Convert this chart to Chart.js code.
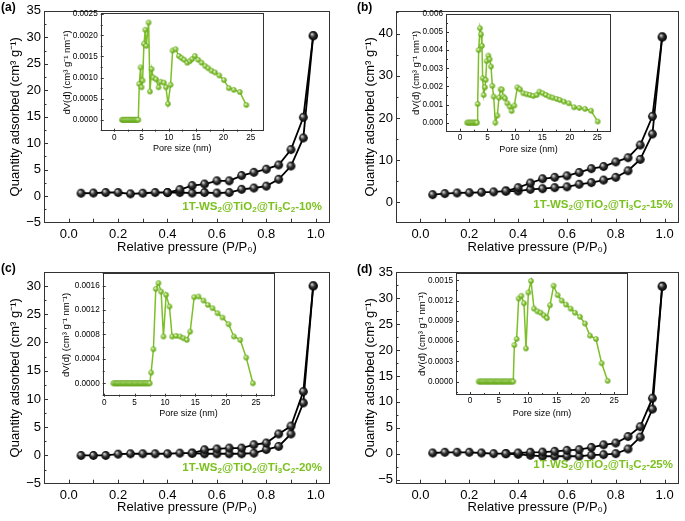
<!DOCTYPE html>
<html>
<head>
<meta charset="utf-8">
<script src="https://cdn.jsdelivr.net/npm/chart.js@4.4.0/dist/chart.umd.min.js"></script>
<style>
  body { margin: 0; background: #fff; width: 685px; height: 521px; position: relative; overflow: hidden;
         font-family: "Liberation Sans", Arial, sans-serif; }
  canvas { position: absolute; }
  .tag { position: absolute; font-weight: bold; font-size: 12px; line-height: 14px; color: #000; }
  .lbl { position: absolute; font-weight: bold; font-size: 11.5px; line-height: 14px; color: #7cc11f; white-space: nowrap; }
  .lbl sub { font-size: 70%; vertical-align: -0.3em; line-height: 0; }
</style>
</head>
<body>
<canvas id="mainA" width="342" height="261" style="left:0;top:0"></canvas>
<canvas id="mainB" width="343" height="261" style="left:342px;top:0"></canvas>
<canvas id="mainC" width="342" height="260" style="left:0;top:261px"></canvas>
<canvas id="mainD" width="343" height="260" style="left:342px;top:261px"></canvas>
<canvas id="insetA" width="215" height="153" style="left:55px;top:5px"></canvas>
<canvas id="insetB" width="213" height="153" style="left:404px;top:5px"></canvas>
<canvas id="insetC" width="225" height="158" style="left:55px;top:265px"></canvas>
<canvas id="insetD" width="224" height="157" style="left:410px;top:265px"></canvas>

<div class="tag" style="left:1px;top:0">(a)</div>
<div class="tag" style="left:357px;top:0">(b)</div>
<div class="tag" style="left:1px;top:261px">(c)</div>
<div class="tag" style="left:357px;top:262px">(d)</div>
<div class="lbl" style="right:363px;top:199px">1T-WS<sub>2</sub>@TiO<sub>2</sub>@Ti<sub>3</sub>C<sub>2</sub>-10%</div>
<div class="lbl" style="right:12px;top:197px">1T-WS<sub>2</sub>@TiO<sub>2</sub>@Ti<sub>3</sub>C<sub>2</sub>-15%</div>
<div class="lbl" style="right:363px;top:460px">1T-WS<sub>2</sub>@TiO<sub>2</sub>@Ti<sub>3</sub>C<sub>2</sub>-20%</div>
<div class="lbl" style="right:12px;top:457px">1T-WS<sub>2</sub>@TiO<sub>2</sub>@Ti<sub>3</sub>C<sub>2</sub>-25%</div>

<script>
// relative pressure points of the isotherms
const relP = [0.05, 0.1, 0.15, 0.2, 0.25, 0.3, 0.35, 0.4, 0.45, 0.5, 0.55, 0.6, 0.65, 0.7, 0.75, 0.8, 0.85, 0.9, 0.95, 0.99];

// adsorption / desorption branches (cm3 g-1)
const adsA = [0.56, 0.6, 0.7, 0.7, 0.45, 0.56, 0.7, 0.7, 0.7, 0.6, 0.7, 0.6, 0.7, 1.3, 1.55, 1.9, 3.2, 5.7, 11.0, 30.3];
const desA = [null, null, null, null, null, null, null, 0.7, 1.25, 2.0, 2.3, 2.9, 2.9, 3.9, 4.5, 5.1, 5.9, 8.8, 14.9, 30.3];
const adsB = [1.85, 2.1, 2.25, 2.3, 2.4, 2.5, 2.7, 2.7, 3.1, 3.25, 3.5, 3.7, 4.3, 4.7, 5.3, 5.95, 7.5, 10.2, 16.2, 39.2];
const desB = [null, null, null, null, null, null, 2.7, 3.5, 4.6, 5.6, 5.95, 6.3, 7.1, 8.0, 8.5, 9.6, 10.6, 13.6, 20.4, 39.2];
const adsC = [0.0, 0.0, 0.0, 0.23, 0.3, 0.3, 0.3, 0.3, 0.4, 0.4, 0.3, 0.3, 0.3, 0.3, 0.4, 1.05, 1.6, 3.8, 9.3, 30.0];
const desC = [null, null, null, null, null, null, null, null, null, 0.4, 1.0, 1.15, 1.3, 1.3, 1.9, 2.2, 3.8, 5.2, 11.3, 30.0];
const adsD = [0.13, 0.26, 0.26, 0.26, 0.13, 0.0, 0.0, -0.13, -0.32, -0.5, -0.5, -0.5, -0.5, -0.3, -0.2, 0.0, 0.9, 3.2, 8.6, 32.3];
const desD = [null, null, null, null, null, null, 0.0, 0.13, 0.26, 0.3, 0.45, 0.64, 0.77, 1.2, 1.7, 2.05, 3.3, 5.2, 10.7, 32.3];

// pore size distributions [pore size nm, dV(d)]
const poreA = [[1.4,0],[1.6,0],[1.8,0],[2.0,0],[2.2,0],[2.4,0],[2.6,0],[2.8,0],[3.0,0],[3.2,0],[3.4,0],[3.6,0],[3.8,0],[4.0,0],[4.2,0],[4.4,0],
  [4.58,0.00085],[4.83,0.00124],[5.0,0.00077],[5.19,0.00093],[5.44,0.0018],[5.68,0.00213],[5.86,0.00175],[6.29,0.0023],[6.54,0.00067],
  [6.84,0.0012],[7.15,0.001],[7.64,0.00096],[8.12,0.00077],[8.49,0.0009],[9.1,0.00088],[9.47,0.00077],[9.84,0.00038],[10.32,0.00083],
  [10.69,0.00164],[11.24,0.00167],[11.85,0.00151],[12.34,0.00146],[12.83,0.00142],[13.38,0.00135],[13.87,0.00139],[14.3,0.00144],
  [14.78,0.00151],[15.39,0.00142],[16.0,0.00135],[16.68,0.00127],[17.23,0.00122],[17.84,0.00116],[18.45,0.00112],[19.24,0.00105],
  [20.1,0.00094],[21.0,0.00075],[21.9,0.00071],[23.0,0.00066],[24.2,0.00035]];
const poreB = [[1.3,0],[1.5,0],[1.7,0],[1.9,0],[2.1,0],[2.3,0],[2.5,0],[2.7,0],[2.9,0],[3.1,0],
  [3.22,0.00103],[3.4,0.00401],[3.64,0.00521],[3.83,0.00488],[4.0,0.00424],[4.13,0.00245],[4.31,0.00153],[4.55,0.00195],[4.68,0.00236],
  [4.86,0.0034],[5.16,0.0037],[5.4,0.0035],[5.65,0.0031],[5.89,0.00203],[6.13,0.00144],[6.44,0.0],[6.8,0.00039],[7.1,0.00138],
  [7.4,0.00184],[7.62,0.00183],[7.9,0.00144],[8.2,0.00134],[8.62,0.00107],[9.05,0.00088],[9.41,0.00064],[9.9,0.00094],[10.44,0.00195],
  [10.93,0.00184],[11.54,0.00162],[12.14,0.00157],[12.75,0.00153],[13.36,0.00147],[13.97,0.00153],[14.45,0.00171],[15.06,0.00162],
  [15.66,0.00153],[16.27,0.00144],[16.88,0.00138],[17.6,0.00131],[18.2,0.00125],[18.94,0.00116],[19.8,0.00107],[20.77,0.00085],
  [21.74,0.00081],[22.77,0.00076],[23.86,0.00066],[25.08,0.00006]];
const poreC = [[1.5,0],[1.7,0],[1.9,0],[2.1,0],[2.3,0],[2.5,0],[2.7,0],[2.9,0],[3.1,0],[3.3,0],[3.5,0],[3.7,0],[3.9,0],[4.1,0],[4.3,0],[4.5,0],
  [4.7,0],[4.9,0],[5.1,0],[5.3,0],[5.5,0],[5.7,0],[5.9,0],[6.1,0],[6.3,0],[6.5,0],[6.7,0],[6.9,0],[7.1,0],[7.3,0],[7.5,0],
  [7.72,0.000175],[8.1,0.000557],[8.49,0.001545],[8.93,0.00164],[9.37,0.0015],[9.75,0.000765],[10.19,0.001447],[10.74,0.001256],
  [11.18,0.000765],[11.84,0.000775],[12.5,0.000765],[13.05,0.000737],[13.6,0.00071],[14.15,0.000846],[14.81,0.001409],[15.52,0.00142],
  [16.35,0.001354],[17.06,0.001283],[17.83,0.001229],[18.65,0.001147],[19.48,0.001076],[20.47,0.000966],[21.35,0.000765],[22.39,0.00071],
  [23.38,0.00042],[24.48,0.0]];
const poreD = [[1.5,0],[1.7,0],[1.9,0],[2.1,0],[2.3,0],[2.5,0],[2.7,0],[2.9,0],[3.1,0],[3.3,0],[3.5,0],[3.7,0],[3.9,0],[4.1,0],[4.3,0],[4.5,0],
  [4.7,0],[4.9,0],[5.1,0],[5.3,0],[5.5,0],[5.7,0],[5.9,0],[6.1,0],[6.3,0],[6.5,0],[6.7,0],[6.9,0],[7.1,0],[7.3,0],[7.5,0],
  [7.69,0.00054],[8.09,0.00063],[8.44,0.00123],[8.9,0.00127],[9.36,0.00116],[9.71,0.00049],[10.12,0.00132],[10.58,0.00149],[11.1,0.00108],
  [11.68,0.00104],[12.25,0.00102],[12.83,0.00098],[13.35,0.00094],[13.87,0.00113],[14.5,0.00142],[15.2,0.00128],[15.9,0.0012],[16.65,0.00114],
  [17.46,0.00108],[18.2,0.00102],[19.08,0.00096],[19.94,0.00086],[20.8,0.00068],[21.85,0.00063],[22.83,0.00027],[23.87,0.00001]];

// tick labels
const mainXTicks = [0, 0.1, 0.2, 0.3, 0.4, 0.5, 0.6, 0.7, 0.8, 0.9, 1.0];
const yTicksA = [-5, 0, 5, 10, 15, 20, 25, 30, 35];
const yTicksB = [0, 10, 20, 30, 40];
const yTicksC = [-5, 0, 5, 10, 15, 20, 25, 30];
const yTicksD = [-5, 0, 5, 10, 15, 20, 25, 30, 35];
const poreTicks = [0, 5, 10, 15, 20, 25];
const dvTicksA = [0, 0.0005, 0.001, 0.0015, 0.002, 0.0025];
const dvTicksB = [0, 0.001, 0.002, 0.003, 0.004, 0.005, 0.006];
const dvTicksC = [0, 0.0004, 0.0008, 0.0012, 0.0016];
const dvTicksD = [0, 0.0003, 0.0006, 0.0009, 0.0012, 0.0015];

const FONT = '"Liberation Sans", Arial, sans-serif';
const GREEN = '#7cbf26';

// inward ticks + frame drawn around the plot area
const frameTicks = {
  id: 'frameTicks',
  afterDatasetsDraw(chart, args, o) {
    const { ctx, chartArea: a } = chart;
    const sx = chart.scales.x, sy = chart.scales.y;
    ctx.save();
    ctx.strokeStyle = '#333';
    ctx.lineWidth = 1;
    ctx.beginPath();
    const tick = (s, v, len) => {
      const p = Math.round(s.getPixelForValue(v)) + 0.5;
      if (s === sx) {
        if (p < a.left || p > a.right) return;
        ctx.moveTo(p, a.bottom); ctx.lineTo(p, a.bottom - len);
      } else {
        if (p < a.top || p > a.bottom) return;
        ctx.moveTo(a.left, p); ctx.lineTo(a.left + len, p);
      }
    };
    const halves = (s) => {
      const v = s.ticks.map(t => t.value), step = v[1] - v[0], out = [];
      for (let k = v[0] - step / 2; k <= s.max; k += step) if (k >= s.min) out.push(k);
      return out;
    };
    sx.ticks.forEach(t => tick(sx, t.value, o.major));
    sy.ticks.forEach(t => tick(sy, t.value, o.major));
    if (o.minorX) halves(sx).forEach(v => tick(sx, v, o.minor));
    halves(sy).forEach(v => tick(sy, v, o.minor));
    ctx.stroke();
    ctx.strokeRect(Math.round(a.left) + 0.5, Math.round(a.top) + 0.5, Math.round(a.width) - 1, Math.round(a.height) - 1);
    ctx.restore();
  }
};

function ball(r, c0, c1, c2) {
  const s = Math.ceil(r * 2) + 2;
  const c = document.createElement('canvas');
  c.width = c.height = s;
  const g = c.getContext('2d'), m = s / 2;
  const grad = g.createRadialGradient(m - r * 0.35, m - r * 0.4, r * 0.05, m, m, r);
  grad.addColorStop(0, c0);
  grad.addColorStop(0.5, c1);
  grad.addColorStop(1, c2);
  g.fillStyle = grad;
  g.beginPath(); g.arc(m, m, r, 0, Math.PI * 2); g.fill();
  return c;
}
const blackBall = ball(4.4, '#e6e6e6', '#333', '#000');
const greenBall = ball(2.7, '#ffffff', '#8ccb3c', '#5f9f18');

// box: canvas rect in page px, plot: wanted plot rect in page px
function build(id, box, plot, datasets, sx, sy, o) {
  return new Chart(document.getElementById(id), {
    type: 'line',
    data: { datasets },
    options: {
      responsive: false, animation: false, devicePixelRatio: 1,
      layout: { padding: { left: 0, top: plot.t - box.t, right: box.r - plot.r, bottom: 0 } },
      plugins: { legend: { display: false }, tooltip: { enabled: false }, frameTicks: o.ticks },
      scales: {
        x: Object.assign({
          type: 'linear',
          grid: { display: false, drawTicks: false },
          border: { display: false },
          afterFit: s => { s.height = box.b - plot.b; }
        }, sx),
        y: Object.assign({
          type: 'linear',
          grid: { display: false, drawTicks: false },
          border: { display: false },
          afterFit: s => { s.width = plot.l - box.l; }
        }, sy)
      }
    },
    plugins: [frameTicks]
  });
}

function setTicks(list) { return s => { s.ticks = list.map(v => ({ value: v })); }; }

function mainChart(id, box, plot, ads, des, yMin, yMax, yTicks, titleX) {
  const line = (vals) => ({
    data: relP.map((x, i) => ({ x, y: vals[i] })),
    borderColor: '#000', borderWidth: 1.8, pointStyle: blackBall, pointRadius: 4.4, tension: 0
  });
  build(id, box, plot, [line(des), line(ads)], {
    min: -0.1, max: 1.058,
    afterBuildTicks: setTicks(mainXTicks),
    ticks: { autoSkip: false, maxRotation: 0, padding: 4, color: '#000', font: { family: FONT, size: 13 },
             callback: v => (Math.round(v * 10) % 2 ? '' : v.toFixed(1)) },
    title: { display: true, text: 'Relative pressure (P/P\u2080)', color: '#000', font: { family: FONT, size: 13 }, padding: { top: 0, bottom: 5.7 } }
  }, {
    min: yMin, max: yMax,
    afterBuildTicks: setTicks(yTicks),
    ticks: { padding: 3, color: '#000', font: { family: FONT, size: 13 },
             callback: v => String(v).replace('-', '\u2212') },
    title: { display: true, text: 'Quantity adsorbed (cm\u00b3 g\u207b\u00b9)', color: '#000', font: { family: FONT, size: 13 }, padding: { top: titleX, bottom: 0 } }
  }, { ticks: { major: 4, minor: 2.5, minorX: false } });
}

function insetChart(id, box, plot, pore, xMin, xMax, yMin, yMax, dvTicks, digits, padY, padX) {
  build(id, box, plot, [{
    data: pore.map(([x, y]) => ({ x, y })),
    borderColor: GREEN, borderWidth: 1.5, pointStyle: greenBall, pointRadius: 2.7, tension: 0
  }], {
    min: xMin, max: xMax,
    afterBuildTicks: setTicks(poreTicks),
    ticks: { autoSkip: false, maxRotation: 0, padding: 1, color: '#000', font: { family: FONT, size: 8.2 } },
    title: { display: true, text: 'Pore size (nm)', color: '#000', font: { family: FONT, size: 9 }, padding: { top: 0, bottom: padX } }
  }, {
    min: yMin, max: yMax,
    afterBuildTicks: setTicks(dvTicks),
    ticks: { padding: 3, color: '#000', font: { family: FONT, size: 8.2 }, callback: v => v.toFixed(digits) },
    title: { display: true, text: 'dV(d) (cm\u00b3 g\u207b\u00b9 nm\u207b\u00b9)', color: '#000', font: { family: FONT, size: 9.5 }, padding: { top: padY, bottom: 0 } }
  }, { ticks: { major: 3, minor: 2, minorX: true } });
}

mainChart('mainA', { l: 0, t: 0, r: 342, b: 261 }, { l: 44, t: 6.7, r: 330, b: 222.7 }, adsA, desA, -5, 35, yTicksA, 7.2);
mainChart('mainB', { l: 342, t: 0, r: 685, b: 261 }, { l: 396, t: 6.7, r: 683, b: 222.7 }, adsB, desB, -4.8, 45.4, yTicksB, 20.2);
mainChart('mainC', { l: 0, t: 261, r: 342, b: 521 }, { l: 44, t: 267.7, r: 330, b: 483.7 }, adsC, desC, -5, 32.5, yTicksC, 7.2);
mainChart('mainD', { l: 342, t: 261, r: 685, b: 521 }, { l: 396, t: 267.7, r: 683, b: 483.7 }, adsD, desD, -5.8, 35.1, yTicksD, 20.2);

insetChart('insetA', { l: 55, t: 5, r: 270, b: 158 }, { l: 100.7, t: 13.3, r: 264, b: 131.7 }, poreA, -2.49, 27.44, -0.00028, 0.00252, dvTicksA, 4, 6.3, 3.6);
insetChart('insetB', { l: 404, t: 5, r: 617, b: 158 }, { l: 446, t: 14, r: 611, b: 131.7 }, poreB, -2.55, 27.5, -0.0005, 0.006, dvTicksB, 3, 6.3, 2.6);
insetChart('insetC', { l: 55, t: 265, r: 280, b: 423 }, { l: 102.7, t: 273.3, r: 274.3, b: 396.7 }, poreC, -0.25, 28, -0.00022, 0.0018, dvTicksC, 4, 5.3, 3.6);
insetChart('insetD', { l: 410, t: 265, r: 634, b: 422 }, { l: 456, t: 272.3, r: 628, b: 395 }, poreD, -2.43, 27.4, -0.0002, 0.00161, dvTicksD, 4, 6.3, 2.6);
</script>
</body>
</html>
